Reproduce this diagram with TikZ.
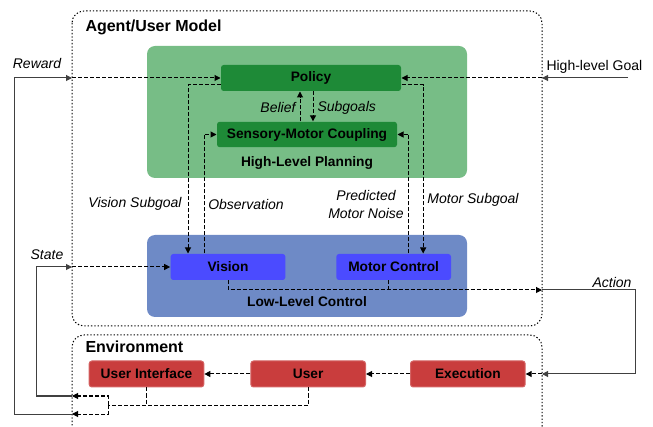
\documentclass[tikz,border=0pt]{standalone}
\usepackage{fontspec}
\setmainfont{Liberation Sans}
\usetikzlibrary{positioning,calc,arrows.meta}

\definecolor{planfill}{HTML}{77BD86}
\definecolor{plannode}{HTML}{1E8A37}
\definecolor{ctrlfill}{HTML}{6E8AC6}
\definecolor{ctrlnode}{HTML}{4B4BFF}
\definecolor{envnode}{HTML}{C93D3D}

\begin{document}
\begin{tikzpicture}[x=0.75pt, y=-0.75pt, >={Triangle[length=4.5pt,width=4.5pt]}, line width=0.75pt,
        main node/.style={rectangle, rounded corners=2pt, minimum width=86pt,
        minimum height=19.5pt, inner sep=0pt, font=\fontsize{10.3}{12}\selectfont\bfseries},
        plan node/.style={main node, fill=plannode, minimum width=135pt},
        ctrl node/.style={main node, fill=ctrlnode},
        env node/.style={main node, fill=envnode, draw=envnode!80!white},
        group box/.style={rectangle, rounded corners=6pt, inner sep=0pt, minimum width=240pt},
        group name/.style={inner sep=0pt, font=\fontsize{10.3}{12}\selectfont\bfseries},
        model box/.style={draw, dash pattern=on 1pt off 1.5pt, rounded corners=9pt},
        box title/.style={anchor=west, inner sep=0pt, font=\fontsize{12}{14}\selectfont\bfseries},
        note/.style={inner sep=0pt, font=\fontsize{10.5}{13.5}\selectfont\itshape},
        flow/.style={->, dash pattern=on 3pt off 1.5pt},
        link/.style={dash pattern=on 3pt off 1.5pt},
        feed/.style={->, black!75}]
        \useasboundingbox (0,0) rectangle (653,427);

        % outer model boxes
        \draw[model box] (72,11) rectangle (542,326);
        \draw[model box] (72,432) -- (72,335) -- (542,335) -- (542,432);
        \node[box title] (agenttitle) at (85,27) {Agent/User Model};
        \node[box title] (envtitle) at (85,347) {Environment};

        % planning and control groups
        \node[group box, fill=planfill, minimum height=99pt] (planning) at (307,112) {};
        \node[group box, fill=ctrlfill, minimum height=61.5pt] (control) at (307,276) {};
        \node[group name] (planname) at (307,163) {High-Level Planning};
        \node[group name] (ctrlname) at (307,302) {Low-Level Control};

        \node[plan node] (policy) at (311,78) {Policy};
        \node[plan node, minimum height=19pt] (coupling) at (307,134.5) {Sensory-Motor Coupling};
        \node[ctrl node] (vision) at (228,267) {Vision};
        \node[ctrl node, right = 37.5pt of vision] (motor) {Motor Control};
        \node[env node] (ui) at (146.5,374) {User Interface};
        \node[env node, right = 34.5pt of ui] (user) {User};
        \node[env node, right = 33pt of user] (exec) {Execution};

        % border points
        \coordinate (rewardin) at (72,78);
        \coordinate (goalin) at (542,78);
        \coordinate (goalfoot) at (628,78);
        \coordinate (statein) at (72,267);
        \coordinate (actionout) at (542,290);
        \coordinate (actionturn) at (635,290);
        \coordinate (actionin) at (542,374);
        \coordinate (envjoin) at (108,405);
        \coordinate (stateout) at (72,396);
        \coordinate (rewardout) at (72,414);

        \draw[feed] (goalfoot) -- (goalin);
        \draw[flow] (goalin) -- (policy.east);
        \draw[flow] (rewardin) -- (policy.west);
        \draw[flow] ($(policy.west)+(0,7)$) -| ($(vision.north)+(-40,0)$);
        \draw[flow] ($(vision.north)+(-24,0)$) |- (coupling.west);
        \draw[flow] ($(policy.east)+(0,7)$) -| ($(motor.north)+(29.5,0)$);
        \draw[flow] ($(motor.north)+(15,0)$) |- (coupling.east);
        \draw[flow] ($(coupling.north)+(-7,0)$) -- ($(policy.south)+(-11,0)$);
        \draw[flow] ($(policy.south)+(2,0)$) -- ($(coupling.north)+(6,0)$);
        \draw[flow] (statein) -- (vision.west);
        \draw[flow] (vision.south) |- (actionout);
        \draw[link] ($(motor.south)+(-5.5,0)$) -- ++(0,10);
        \draw[feed] (actionout) -- (actionturn) |- (actionin);
        \draw[flow] (actionin) -- (exec.east);
        \draw[flow] (exec.west) -- (user.east);
        \draw[flow] (user.west) -- (ui.east);
        \draw[link] (user.south) |- (envjoin);
        \draw[link] (ui.south) -- (ui.south |- envjoin);
        \draw[flow] (envjoin) |- (stateout);
        \draw[flow] (envjoin) |- (rewardout);
        \draw[feed] (stateout) -- ++(-36,0) |- (statein);
        \draw[feed] (rewardout) -- ++(-58,0) |- (rewardin);

        % labels
        \node[note] (rewardtxt) at (37,64) {Reward};
        \node[note] (statetxt) at (47,255) {State};
        \node[note, anchor=east] (belieftxt) at (296,108) {Belief};
        \node[note, anchor=west] (subgoaltxt) at (317,108) {Subgoals};
        \node[note] (vsubtxt) at (135,204) {Vision Subgoal};
        \node[note] (obstxt) at (246,204) {Observation};
        \node[note, align=center] (noisetxt) at (366,204) {Predicted\\Motor Noise};
        \node[note] (msubtxt) at (473,200) {Motor Subgoal};
        \node[note] (actiontxt) at (612,282) {Action};
        \node[inner sep=0pt, anchor=west, font=\fontsize{10.5}{12}\selectfont] (goaltxt) at (546,67) {High-level Goal};
    \end{tikzpicture}
\end{document}
